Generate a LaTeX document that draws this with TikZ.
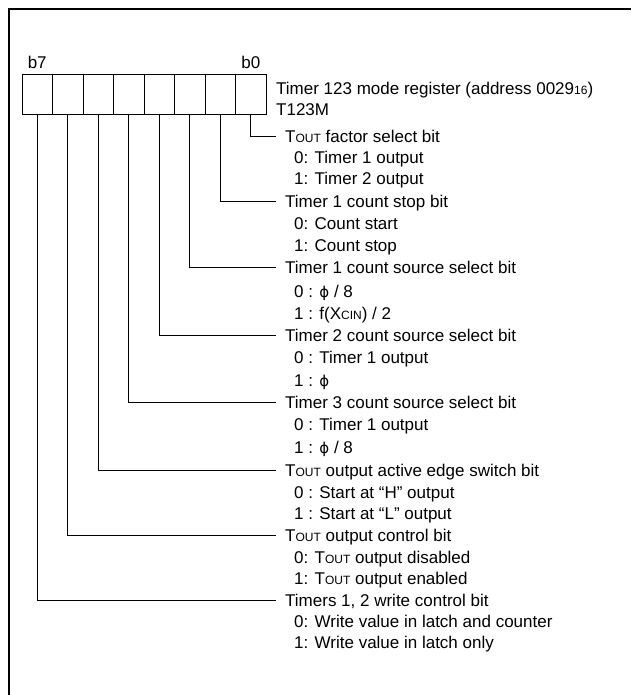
\documentclass[tikz,border=0pt]{standalone}
\usepackage{fontspec}
\setmainfont{Liberation Sans}
\newfontfamily\phifont{DejaVu Sans}
\usetikzlibrary{positioning}
\newcommand{\tout}{T{\fontsize{12pt}{12pt}\selectfont OUT}}
\newcommand{\xcin}{X{\fontsize{12pt}{12pt}\selectfont CIN}}
\newcommand{\sixteen}{{\fontsize{12pt}{12pt}\selectfont 16}}
\newcommand{\ph}{{\phifont\fontsize{15pt}{15pt}\selectfont ϕ}}

\begin{document}
\begin{tikzpicture}[x=1pt, y=-1pt, line join=miter,
    bitbox/.style={draw, line width=0.9pt, minimum width=30.5pt, minimum height=40pt, inner sep=0pt, outer sep=0pt},
    txt/.style={anchor=west, inner sep=0pt, text height=12.2pt, text depth=0pt,
                font=\fontsize{17pt}{20pt}\selectfont},
    wire/.style={line width=0.9pt, shorten >=9pt}]
	     \useasboundingbox (0,0) rectangle (631,695);
	     %
             \draw[line width=2pt] (631,9) -- (9,9) -- (9,695);
             %
             \node[bitbox] at (250.75,94) (b0) {};
             \node[bitbox, left=0pt of b0] (b1) {};
             \node[bitbox, left=0pt of b1] (b2) {};
             \node[bitbox, left=0pt of b2] (b3) {};
             \node[bitbox, left=0pt of b3] (b4) {};
             \node[bitbox, left=0pt of b4] (b5) {};
             \node[bitbox, left=0pt of b5] (b6) {};
             \node[bitbox, left=0pt of b6] (b7) {};
             \node[txt, anchor=south, above=5pt of b7] (lb7) {b7};
             \node[txt, anchor=south, above=5pt of b0] (lb0) {b0};
             %
             \node[txt] at (276,88) (title) {Timer 123 mode register (address 0029\sixteen)};
             \node[txt] at (276,109) (name) {T123M};
             %
             \node[txt] at (285,136) (h0) {\tout{} factor select bit};
             \node[txt] at (294,157) (h0a) {0: Timer 1 output};
             \node[txt] at (294,178) (h0b) {1: Timer 2 output};
             \node[txt] at (285,201) (h1) {Timer 1 count stop bit};
             \node[txt] at (294,223) (h1a) {0: Count start};
             \node[txt] at (294,245) (h1b) {1: Count stop};
             \node[txt] at (285,267) (h2) {Timer 1 count source select bit};
             \node[txt] at (294,291) (h2a) {0 : \ph{} / 8};
             \node[txt] at (294,313) (h2b) {1 : f(\xcin) / 2};
             \node[txt] at (285,335) (h3) {Timer 2 count source select bit};
             \node[txt] at (294,357) (h3a) {0 : Timer 1 output};
             \node[txt] at (294,380) (h3b) {1 : \ph};
             \node[txt] at (285,402) (h4) {Timer 3 count source select bit};
             \node[txt] at (294,424) (h4a) {0 : Timer 1 output};
             \node[txt] at (294,447) (h4b) {1 : \ph{} / 8};
             \node[txt] at (285,470) (h5) {\tout{} output active edge switch bit};
             \node[txt] at (294,492) (h5a) {0 : Start at “H” output};
             \node[txt] at (294,513) (h5b) {1 : Start at “L” output};
             \node[txt] at (285,535) (h6) {\tout{} output control bit};
             \node[txt] at (294,557) (h6a) {0: \tout{} output disabled};
             \node[txt] at (294,578) (h6b) {1: \tout{} output enabled};
             \node[txt] at (285,600) (h7) {Timers 1, 2 write control bit};
             \node[txt] at (294,621) (h7a) {0: Write value in latch and counter};
             \node[txt] at (294,642) (h7b) {1: Write value in latch only};
             %
             \draw[wire] (b0.south) |- (h0.west);
             \draw[wire] (b1.south) |- (h1.west);
             \draw[wire] (b2.south) |- (h2.west);
             \draw[wire] (b3.south) |- (h3.west);
             \draw[wire] (b4.south) |- (h4.west);
             \draw[wire] (b5.south) |- (h5.west);
             \draw[wire] (b6.south) |- (h6.west);
             \draw[wire] (b7.south) |- (h7.west);
          \end{tikzpicture}
\end{document}
